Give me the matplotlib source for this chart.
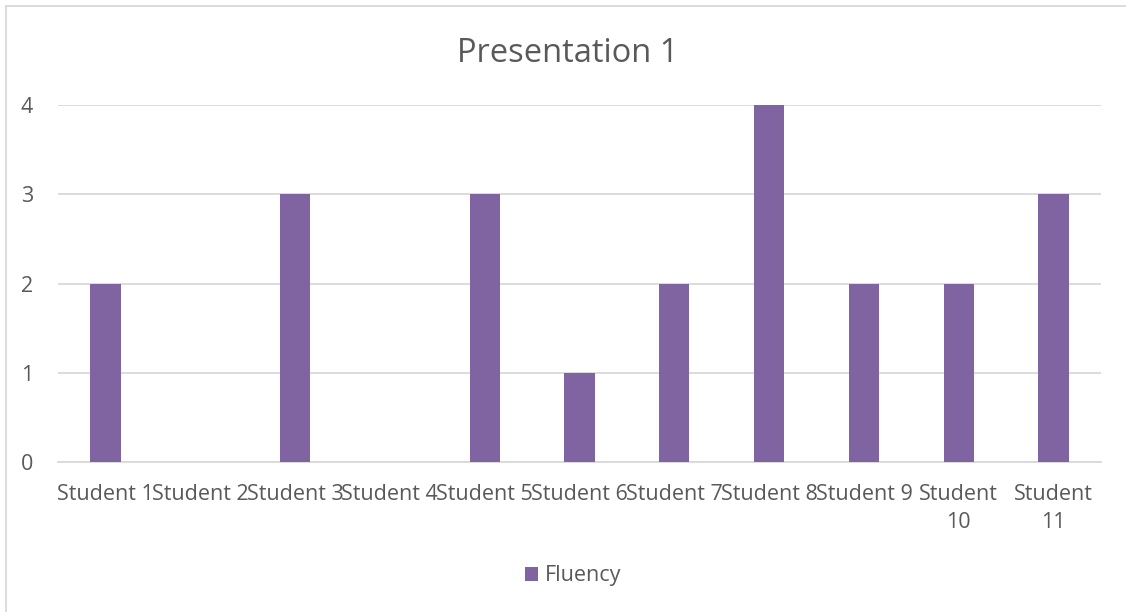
import matplotlib.pyplot as plt
from matplotlib.lines import Line2D

students = ['Student 1', 'Student 2', 'Student 3', 'Student 4', 'Student 5', 'Student 6',
            'Student 7', 'Student 8', 'Student 9', 'Student\n10', 'Student\n11']
fluency = [2, 0, 3, 0, 3, 1, 2, 4, 2, 2, 3]

plt.rcParams['font.family'] = ['Open Sans', 'DejaVu Sans']
txt = '#595959'
grid = '#D9D9D9'
purple = '#8064A2'

W, H = 1126, 612
fig = plt.figure(figsize=(W / 100, H / 100), dpi=100)
ax = fig.add_axes([58 / W, 1 - 462 / H, (1101 - 58) / W, (462 - 105) / H])

x = list(range(len(students)))
ax.bar(x, fluency, width=0.32, color=purple, zorder=3, label='Fluency')

ax.set_xlim(-0.5, len(students) - 0.5)
ax.set_ylim(0, 4)
ax.set_yticks([0, 1, 2, 3, 4])
ax.yaxis.grid(True, color=grid, linewidth=1.3, zorder=0)
for s in ['top', 'right', 'left']:
    ax.spines[s].set_visible(False)
ax.spines['bottom'].set_color(grid)
ax.spines['bottom'].set_linewidth(1.3)
ax.tick_params(axis='y', length=0, pad=18, labelsize=15.5, labelcolor=txt)
ax.tick_params(axis='x', length=0, pad=16, labelsize=15.5, labelcolor=txt)
ax.set_xticks(x)
ax.set_xticklabels(students, linespacing=1.4)

fig.text(568 / W, 1 - 53 / H, 'Presentation 1', ha='center', va='center', fontsize=23.5, color=txt)

leg = ax.legend(loc='center', bbox_to_anchor=(573 / W, 1 - 576 / H), bbox_transform=fig.transFigure,
                frameon=False, fontsize=15.5, handlelength=0.6, handleheight=0.6, handletextpad=0.3)
for t in leg.get_texts():
    t.set_color(txt)

# chart border (only left and top are visible in the crop)
fig.add_artist(Line2D([6 / W, 6 / W], [0, 1 - 6 / H], transform=fig.transFigure, color=grid, linewidth=1.3))
fig.add_artist(Line2D([6 / W, 1], [1 - 6 / H, 1 - 6 / H], transform=fig.transFigure, color=grid, linewidth=1.3))

fig.savefig('out.png', dpi=100)
